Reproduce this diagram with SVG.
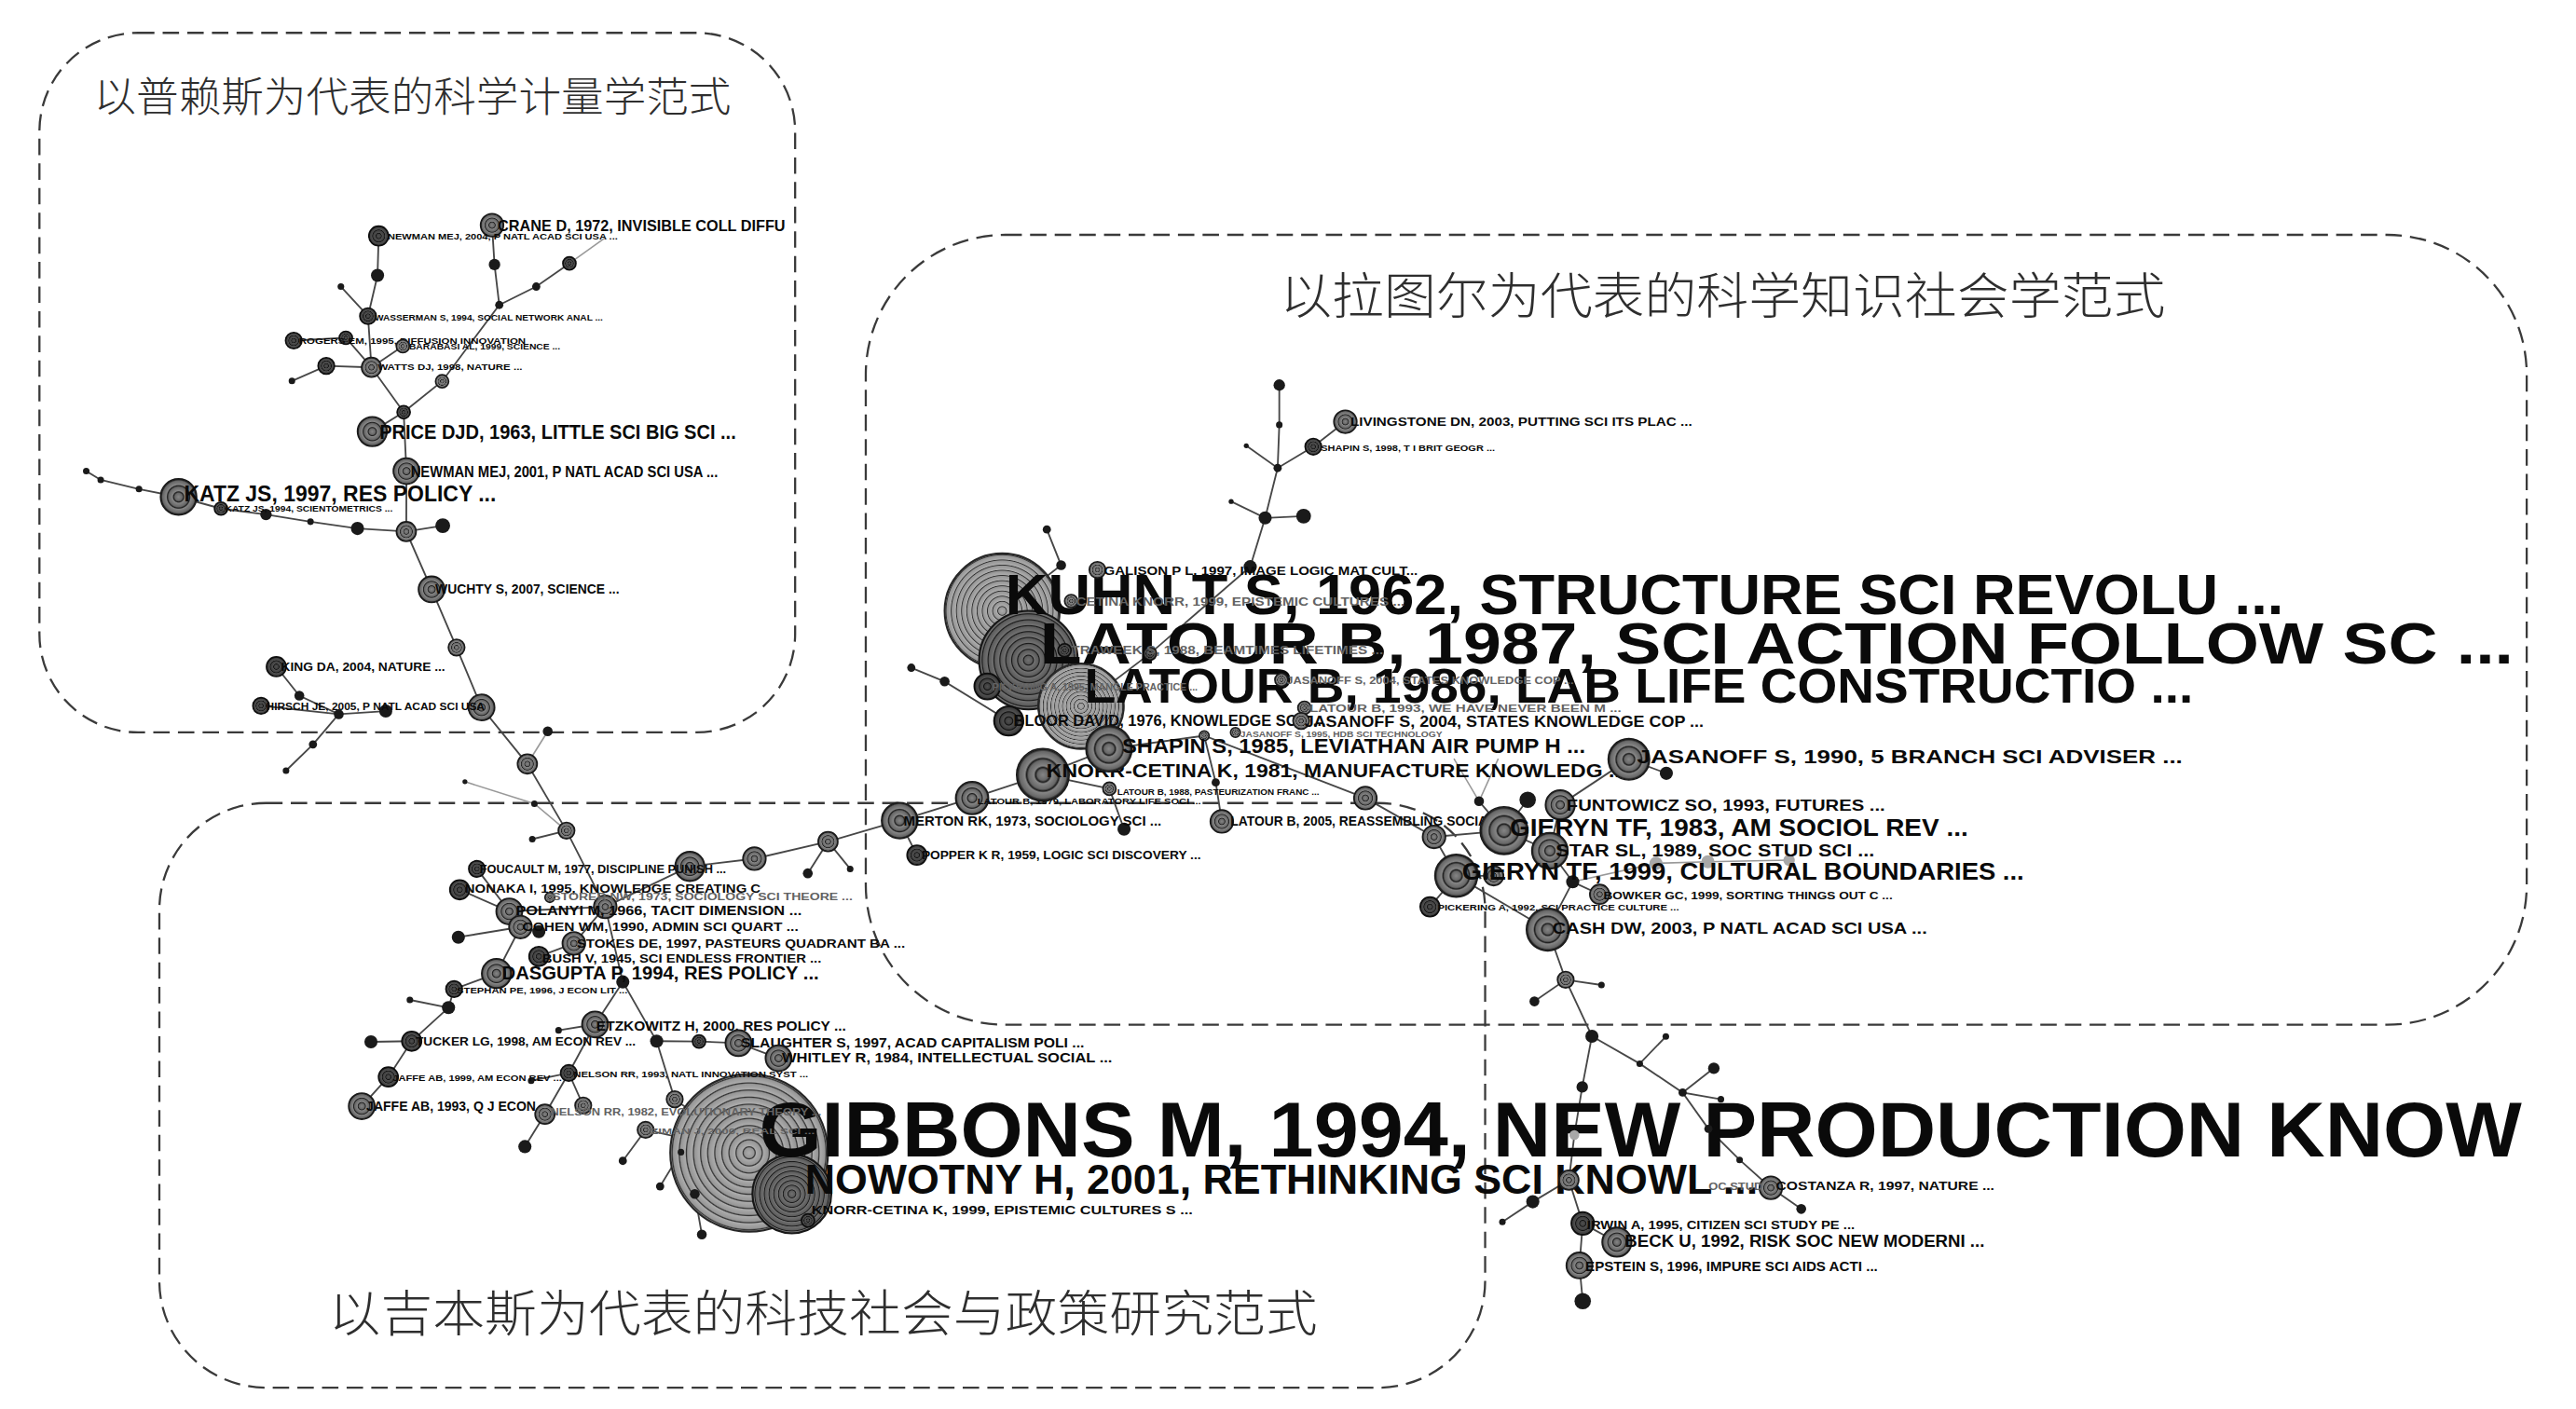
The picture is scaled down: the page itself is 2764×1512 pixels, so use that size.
<svg xmlns="http://www.w3.org/2000/svg" width="2764" height="1512" viewBox="0 0 2764 1512">
<defs>
<style>
.bx{fill:none;stroke:#3a3a3a;stroke-width:1.3;stroke-dasharray:10 5}
.e{fill:none;stroke:#474747;stroke-width:1.05}
.el{fill:none;stroke:#999;stroke-width:0.9}
.d{fill:#1a1a1a}
.dg{fill:#a8a8a8}
.rn{fill:url(#gs);stroke:#1a1a1a;stroke-width:0.9}
.rd{fill:url(#gd);stroke:#0e0e0e;stroke-width:0.9}
.rb{fill:url(#gb);stroke:#262626;stroke-width:1.2}
.rbd{fill:url(#gbd);stroke:#161616;stroke-width:1.2}
.t{font-family:"Liberation Sans",Arial,sans-serif;fill:#0a0a0a;font-weight:bold}
.g{fill:#626262}
.cn{font-family:"Noto Sans CJK SC","Noto Sans CJK JP",sans-serif;fill:#2e2e2e;font-weight:300}
</style>
<radialGradient id="gs" cx="0.5" cy="0.5" r="0.17" spreadMethod="repeat"><stop offset="0" stop-color="#858585"/><stop offset="0.6" stop-color="#676767"/><stop offset="0.82" stop-color="#1e1e1e"/><stop offset="1" stop-color="#858585"/></radialGradient>
<radialGradient id="gd" cx="0.5" cy="0.5" r="0.17" spreadMethod="repeat"><stop offset="0" stop-color="#505050"/><stop offset="0.6" stop-color="#3e3e3e"/><stop offset="0.82" stop-color="#101010"/><stop offset="1" stop-color="#505050"/></radialGradient>
<radialGradient id="gb" cx="0.5" cy="0.5" r="0.045" spreadMethod="repeat"><stop offset="0" stop-color="#ababab"/><stop offset="0.68" stop-color="#969696"/><stop offset="0.85" stop-color="#303030"/><stop offset="1" stop-color="#ababab"/></radialGradient>
<radialGradient id="gbd" cx="0.5" cy="0.5" r="0.06" spreadMethod="repeat"><stop offset="0" stop-color="#707070"/><stop offset="0.65" stop-color="#5c5c5c"/><stop offset="0.84" stop-color="#181818"/><stop offset="1" stop-color="#707070"/></radialGradient>
</defs>
<rect width="2764" height="1512" fill="#fff"/>
<g transform="scale(1.762755 1.762238)">

<g id="regions">
<rect class="bx" x="24" y="20" width="460" height="426" rx="60"/>
<rect class="bx" x="527" y="143" width="1011" height="481" rx="85"/>
<rect class="bx" x="97" y="489" width="807" height="356" rx="65"/>
<text id="title-price" class="cn" x="57" y="68" font-size="25" textLength="388" lengthAdjust="spacingAndGlyphs">以普赖斯为代表的科学计量学范式</text>
<text id="title-latour" class="cn" x="779" y="191" font-size="30" textLength="539" lengthAdjust="spacingAndGlyphs">以拉图尔为代表的科学知识社会学范式</text>
<text id="title-gibbons" class="cn" x="200" y="811" font-size="30" textLength="602" lengthAdjust="spacingAndGlyphs">以吉本斯为代表的科技社会与政策研究范式</text>
</g>

<g id="connectors">
<polyline class="e" points="230.5,143.7 229.8,167.7 224,192.5 226.1,223.7 245.7,251 247.4,286.9 247.3,323.7 262.7,358.9 277.9,394.3 293.1,430.8 321,465.2 344.8,505.8 368.4,552.2 379.1,597.9 399.7,634 410.7,669.4 456,702"/>
<polyline class="e" points="207.5,174.5 224,192.5"/>
<polyline class="e" points="178.8,207.4 210.5,205.7 226.1,223.7"/>
<polyline class="e" points="177.7,232 198.6,222.8 226.1,223.7"/>
<polyline class="e" points="245.2,210.8 226.1,223.7"/>
<polyline class="e" points="299.5,137.1 301,161.1 303.9,185.7 269.1,232.2 245.7,251"/>
<polyline class="e" points="303.9,185.7 326.4,174.5 346.6,160.4"/>
<polyline class="el" points="346.6,160.4 368,145"/>
<polyline class="e" points="226.6,262.8 245.7,251"/>
<polyline class="e" points="52.5,286.9 61.3,292.2 84.6,297.8 108.7,302.6 134.5,309.7 161.9,313.3 189,317.7 217.6,321.8 247.3,323.7 269.5,320.1"/>
<polyline class="e" points="168.2,406 182.2,423.6 206.2,434.9 190.5,453.3 174.1,469.3"/>
<polyline class="e" points="158.9,429.8 206.2,434.9 234.8,433"/>
<polyline class="el" points="333.4,445.3 321,465.2"/>
<polyline class="el" points="283,476 325.3,489.4 344.8,505.8"/>
<polyline class="e" points="344.8,505.8 324,511"/>
<polyline class="e" points="368.4,552.2 419.9,527.6 459.2,522.9 504,512.5 547.6,499.7 591.7,486 634.8,471.8 675,456 658,430 626,402 610,372 645.9,344.2 637.2,322.4"/>
<polyline class="e" points="491.7,531.8 504,512.5 517.5,529.1"/>
<polyline class="e" points="279.8,541.8 310,555 368.4,552.2"/>
<polyline class="e" points="290.3,529.1 310,555"/>
<polyline class="e" points="310,555 316.8,564.5 279,570.7"/>
<polyline class="e" points="316.8,564.5 328,567.3"/>
<polyline class="e" points="316.8,564.5 302.2,592.8 276.4,602.3 273,613.6 250.6,634 236.4,655.8 220.2,673.6"/>
<polyline class="e" points="249.5,608.9 273,613.6"/>
<polyline class="e" points="225.8,634.4 250.6,634"/>
<polyline class="e" points="368.4,552.2 349.3,574.5 328,582.4"/>
<polyline class="e" points="379.1,597.9 362.2,623.8 346.2,653.4 331.7,678.5 319.5,698.2"/>
<polyline class="e" points="362.2,623.8 340,627.4"/>
<polyline class="e" points="323.3,658.1 346.2,653.4 355,673.2"/>
<polyline class="e" points="399.7,634 425.5,634.2 449.5,635.2 473.9,644.4"/>
<polyline class="e" points="379.1,706.9 393,688 456,702"/>
<polyline class="e" points="456,702 414.5,701.6 401.8,722.4"/>
<polyline class="e" points="456,702 422.9,727.1 427.2,751.7"/>
<polyline class="e" points="456,702 482,727 491.8,743.2"/>
<polyline class="e" points="547.6,499.7 558.1,520.7"/>
<polyline class="e" points="614,439 575,415 554.7,406.6"/>
<polyline class="e" points="614,439 626,402"/>
<polyline class="e" points="601,418 626,402"/>
<polyline class="e" points="658,430 700,398 761,345.1 770.1,315.4 777.7,285 778.7,258.7 778.7,234.5"/>
<polyline class="e" points="749.4,305.4 770.1,315.4 793.5,314.3"/>
<polyline class="e" points="758.6,271.4 777.7,285 799.4,272 818.9,256.8"/>
<polyline class="e" points="634.8,471.8 675.3,480.3 684.2,504.9"/>
<polyline class="e" points="675,456 733,448 831.1,486 872.9,509.6 886.4,533.3 942.1,566"/>
<polyline class="e" points="733,448 740,476.5 743.7,500.2"/>
<polyline class="e" points="872.9,509.6 915.5,505.8 943.4,518.1 957.3,537 942.1,566"/>
<polyline class="el" points="885,462 900.3,487.9 912,462"/>
<polyline class="e" points="900.3,487.9 915.5,505.8 929.9,487"/>
<polyline class="e" points="943.4,518.1 949.7,490.1 991.5,462.4 1014.3,470.9"/>
<polyline class="e" points="870.4,552.2 886.4,533.3 909.2,533.3"/>
<polyline class="e" points="973.7,544.6 957.3,537"/>
<polyline class="el" points="957.3,537 1008,525.7 1039.6,524.8 1089,523.8"/>
<polyline class="e" points="942.1,566 953,596.6 969,631 963.1,661.9 958.3,691.2 955,718.6 963.4,745 961.4,770.6 963.4,792.3"/>
<polyline class="e" points="974.8,599.8 953,596.6 934,609.8"/>
<polyline class="e" points="969,631 998.1,647.7 1024.2,665.3 1039.9,687.4 1058.9,706.3 1077.9,723.3 1096.4,736.2"/>
<polyline class="e" points="998.1,647.7 1014,631.2"/>
<polyline class="e" points="1043.2,650.5 1024.2,665.3 1047.5,669.4"/>
<polyline class="e" points="955,718.6 933,731.8 914.5,744.1"/>
<polyline class="e" points="963.4,745 984.2,756.4"/>
</g>

<g id="big-nodes">
<g id="n-kuhn"><circle class="rb" cx="610" cy="372" r="35"/></g>
<g id="n-latour87"><circle class="rbd" cx="626" cy="402" r="30"/></g>
<g id="n-latour86"><circle class="rb" cx="658" cy="430" r="26"/></g>
<g id="n-gibbons"><circle class="rb" cx="456" cy="702" r="48"/></g>
<g id="n-nowotny"><circle class="rbd" cx="482" cy="727" r="24"/></g>
</g>

<g id="big-labels">
<g id="l-kuhn"><text class="t" x="612" y="374" font-size="35" textLength="778" lengthAdjust="spacingAndGlyphs">KUHN T S, 1962, STRUCTURE SCI REVOLU ...</text></g>
<g id="l-latour87"><text class="t" x="633" y="404" font-size="36" textLength="897" lengthAdjust="spacingAndGlyphs">LATOUR B, 1987, SCI ACTION FOLLOW SC ...</text></g>
<g id="l-latour86"><text class="t" x="660" y="428" font-size="29" textLength="675" lengthAdjust="spacingAndGlyphs">LATOUR B, 1986, LAB LIFE CONSTRUCTIO ...</text></g>
<g id="l-gibbons"><text class="t" x="462" y="704" font-size="47" textLength="1073" lengthAdjust="spacingAndGlyphs">GIBBONS M, 1994, NEW PRODUCTION KNOW</text></g>
<g id="l-nowotny"><text class="t" x="490" y="727" font-size="25" textLength="580" lengthAdjust="spacingAndGlyphs">NOWOTNY H, 2001, RETHINKING SCI KNOWL ...</text></g>
</g>

<g id="minor-nodes">
<g id="m1"><circle class="d" cx="229.8" cy="167.7" r="4"/></g>
<g id="m2"><circle class="d" cx="301" cy="161.1" r="3.5"/></g>
<g id="m3"><circle class="rd" cx="346.6" cy="160.4" r="4"/></g>
<g id="m4"><circle class="d" cx="326.4" cy="174.5" r="2.5"/></g>
<g id="m5"><circle class="d" cx="303.9" cy="185.7" r="2.5"/></g>
<g id="m6"><circle class="d" cx="207.5" cy="174.5" r="2"/></g>
<g id="m7"><circle class="rd" cx="210.5" cy="205.7" r="4"/></g>
<g id="m8"><circle class="d" cx="177.7" cy="232" r="2"/></g>
<g id="m9"><circle class="rd" cx="198.6" cy="222.8" r="5"/></g>
<g id="m10"><circle class="rn" cx="269.1" cy="232.2" r="4"/></g>
<g id="m11"><circle class="rd" cx="245.7" cy="251" r="4"/></g>
<g id="m12"><circle class="d" cx="52.5" cy="286.9" r="2"/></g>
<g id="m13"><circle class="d" cx="61.3" cy="292.2" r="2"/></g>
<g id="m14"><circle class="d" cx="84.6" cy="297.8" r="2"/></g>
<g id="m15"><circle class="d" cx="161.9" cy="313.3" r="3.5"/></g>
<g id="m16"><circle class="d" cx="189" cy="317.7" r="2"/></g>
<g id="m17"><circle class="d" cx="217.6" cy="321.8" r="4"/></g>
<g id="m18"><circle class="rn" cx="247.3" cy="323.7" r="6"/></g>
<g id="m19"><circle class="d" cx="269.5" cy="320.1" r="4.5"/></g>
<g id="m20"><circle class="rn" cx="277.9" cy="394.3" r="5"/></g>
<g id="m21"><circle class="d" cx="182.2" cy="423.6" r="3"/></g>
<g id="m22"><circle class="d" cx="206.2" cy="434.9" r="3"/></g>
<g id="m23"><circle class="d" cx="234.8" cy="433" r="4"/></g>
<g id="m24"><circle class="rn" cx="293.1" cy="430.8" r="8"/></g>
<g id="m25"><circle class="d" cx="333.4" cy="445.3" r="3"/></g>
<g id="m26"><circle class="d" cx="190.5" cy="453.3" r="2.5"/></g>
<g id="m27"><circle class="d" cx="174.1" cy="469.3" r="2"/></g>
<g id="m28"><circle class="rn" cx="321" cy="465.2" r="6"/></g>
<g id="m29"><circle class="d" cx="283" cy="476" r="1.5"/></g>
<g id="m30"><circle class="d" cx="325.3" cy="489.4" r="2"/></g>
<g id="m31"><circle class="rn" cx="344.8" cy="505.8" r="5"/></g>
<g id="m32"><circle class="d" cx="324" cy="511" r="2"/></g>
<g id="m33"><circle class="rn" cx="368.4" cy="552.2" r="7"/></g>
<g id="m34"><circle class="rn" cx="419.9" cy="527.6" r="9"/></g>
<g id="m35"><circle class="rn" cx="459.2" cy="522.9" r="7"/></g>
<g id="m36"><circle class="rn" cx="504" cy="512.5" r="6"/></g>
<g id="m37"><circle class="d" cx="491.7" cy="531.8" r="3"/></g>
<g id="m38"><circle class="d" cx="517.5" cy="529.1" r="2"/></g>
<g id="m39"><circle class="d" cx="279" cy="570.7" r="4"/></g>
<g id="m40"><circle class="d" cx="328" cy="567.3" r="4"/></g>
<g id="m41"><circle class="d" cx="379.1" cy="597.9" r="4"/></g>
<g id="m42"><circle class="d" cx="249.5" cy="608.9" r="2"/></g>
<g id="m43"><circle class="d" cx="273" cy="613.6" r="4"/></g>
<g id="m44"><circle class="d" cx="340" cy="627.4" r="2"/></g>
<g id="m45"><circle class="d" cx="225.8" cy="634.4" r="4"/></g>
<g id="m46"><circle class="d" cx="399.7" cy="634" r="4"/></g>
<g id="m47"><circle class="rd" cx="425.5" cy="634.2" r="4"/></g>
<g id="m48"><circle class="d" cx="323.3" cy="658.1" r="2"/></g>
<g id="m49"><circle class="rn" cx="355" cy="673.2" r="5"/></g>
<g id="m50"><circle class="rn" cx="410.7" cy="669.4" r="5"/></g>
<g id="m51"><circle class="d" cx="319.5" cy="698.2" r="4"/></g>
<g id="m52"><circle class="d" cx="379.1" cy="706.9" r="2.5"/></g>
<g id="m53"><circle class="d" cx="414.5" cy="701.6" r="2"/></g>
<g id="m54"><circle class="d" cx="401.8" cy="722.4" r="2.5"/></g>
<g id="m55"><circle class="d" cx="422.9" cy="727.1" r="3"/></g>
<g id="m56"><circle class="d" cx="427.2" cy="751.7" r="3"/></g>
<g id="m57"><circle class="d" cx="637.2" cy="322.4" r="2.5"/></g>
<g id="m58"><circle class="d" cx="645.9" cy="344.2" r="3"/></g>
<g id="m59"><circle class="d" cx="554.7" cy="406.6" r="2.5"/></g>
<g id="m60"><circle class="d" cx="575" cy="415" r="3"/></g>
<g id="m61"><circle class="d" cx="761" cy="345.1" r="4"/></g>
<g id="m62"><circle class="d" cx="749.4" cy="305.4" r="1.5"/></g>
<g id="m63"><circle class="d" cx="770.1" cy="315.4" r="4"/></g>
<g id="m64"><circle class="d" cx="793.5" cy="314.3" r="4.5"/></g>
<g id="m65"><circle class="d" cx="777.7" cy="285" r="2.5"/></g>
<g id="m66"><circle class="d" cx="758.6" cy="271.4" r="1.5"/></g>
<g id="m67"><circle class="d" cx="778.7" cy="258.7" r="2"/></g>
<g id="m68"><circle class="d" cx="778.7" cy="234.5" r="3.5"/></g>
<g id="m69"><circle class="d" cx="684.2" cy="504.9" r="4"/></g>
<g id="m70"><circle class="rn" cx="733" cy="448" r="3"/></g>
<g id="m71"><circle class="d" cx="740" cy="476.5" r="2.5"/></g>
<g id="m72"><circle class="rn" cx="831.1" cy="486" r="7"/></g>
<g id="m73"><circle class="rn" cx="872.9" cy="509.6" r="7"/></g>
<g id="m74"><circle class="d" cx="900.3" cy="487.9" r="3"/></g>
<g id="m75"><circle class="d" cx="929.9" cy="487" r="5"/></g>
<g id="m76"><circle class="rn" cx="909.2" cy="533.3" r="6"/></g>
<g id="m77"><circle class="d" cx="957.3" cy="537" r="4"/></g>
<g id="m78"><circle class="d" cx="1014.3" cy="470.9" r="4"/></g>
<g id="m79"><circle class="dg" cx="1008" cy="525.7" r="4"/></g>
<g id="m80"><circle class="dg" cx="1039.6" cy="524.8" r="4"/></g>
<g id="m81"><circle class="dg" cx="1089" cy="523.8" r="3.5"/></g>
<g id="m82"><circle class="rn" cx="953" cy="596.6" r="5"/></g>
<g id="m83"><circle class="d" cx="974.8" cy="599.8" r="2"/></g>
<g id="m84"><circle class="d" cx="934" cy="609.8" r="3"/></g>
<g id="m85"><circle class="d" cx="969" cy="631" r="4"/></g>
<g id="m86"><circle class="d" cx="1014" cy="631.2" r="2"/></g>
<g id="m87"><circle class="d" cx="998.1" cy="647.7" r="2"/></g>
<g id="m88"><circle class="d" cx="1043.2" cy="650.5" r="3.5"/></g>
<g id="m89"><circle class="d" cx="1024.2" cy="665.3" r="2.5"/></g>
<g id="m90"><circle class="d" cx="1047.5" cy="669.4" r="2"/></g>
<g id="m91"><circle class="d" cx="963.1" cy="661.9" r="3.5"/></g>
<g id="m92"><circle class="d" cx="1039.9" cy="687.4" r="2.5"/></g>
<g id="m93"><circle class="d" cx="1058.9" cy="706.3" r="2"/></g>
<g id="m94"><circle class="dg" cx="958.3" cy="691.2" r="3"/></g>
<g id="m95"><circle class="d" cx="1096.4" cy="736.2" r="3"/></g>
<g id="m96"><circle class="rn" cx="955" cy="718.6" r="6"/></g>
<g id="m97"><circle class="d" cx="933" cy="731.8" r="4"/></g>
<g id="m98"><circle class="d" cx="914.5" cy="744.1" r="2"/></g>
<g id="m99"><circle class="d" cx="963.4" cy="792.3" r="5"/></g>
<g id="m100"><circle class="rd" cx="700" cy="398" r="4"/></g>
</g>

<g id="labeled-nodes">
<g id="n-crane"><circle class="rn" cx="299.5" cy="137.1" r="7"/><text class="t" x="303" y="140.5" font-size="9.5" textLength="175" lengthAdjust="spacingAndGlyphs">CRANE D, 1972, INVISIBLE COLL DIFFU</text></g>
<g id="n-newman04"><circle class="rd" cx="230.5" cy="143.7" r="6"/><text class="t" x="236" y="146" font-size="5.5" textLength="140" lengthAdjust="spacingAndGlyphs">NEWMAN MEJ, 2004, P NATL ACAD SCI USA ...</text></g>
<g id="n-wasserman"><circle class="rd" cx="224" cy="192.5" r="5"/><text class="t" x="228" y="195" font-size="5.5" textLength="139" lengthAdjust="spacingAndGlyphs">WASSERMAN S, 1994, SOCIAL NETWORK ANAL ...</text></g>
<g id="n-rogers"><circle class="rd" cx="178.8" cy="207.4" r="5"/><text class="t" x="182" y="209.5" font-size="5.5" textLength="138" lengthAdjust="spacingAndGlyphs">ROGERS EM, 1995, DIFFUSION INNOVATION</text></g>
<g id="n-barabasi"><circle class="rn" cx="245.2" cy="210.8" r="4"/><text class="t" x="249" y="213" font-size="5" textLength="92" lengthAdjust="spacingAndGlyphs">BARABASI AL, 1999, SCIENCE ...</text></g>
<g id="n-watts"><circle class="rn" cx="226.1" cy="223.7" r="6"/><text class="t" x="230" y="225.5" font-size="5" textLength="88" lengthAdjust="spacingAndGlyphs">WATTS DJ, 1998, NATURE ...</text></g>
<g id="n-price"><circle class="rn" cx="226.6" cy="262.8" r="9"/><text class="t" x="231" y="267.5" font-size="12.5" textLength="217" lengthAdjust="spacingAndGlyphs">PRICE DJD, 1963, LITTLE SCI BIG SCI ...</text></g>
<g id="n-newman01"><circle class="rn" cx="247.4" cy="286.9" r="8"/><text class="t" x="250" y="290.5" font-size="9" textLength="187" lengthAdjust="spacingAndGlyphs">NEWMAN MEJ, 2001, P NATL ACAD SCI USA ...</text></g>
<g id="n-katz97"><circle class="rn" cx="108.7" cy="302.6" r="11"/><text class="t" x="112" y="305.5" font-size="13.5" textLength="190" lengthAdjust="spacingAndGlyphs">KATZ JS, 1997, RES POLICY ...</text></g>
<g id="n-katz94"><circle class="rd" cx="134.5" cy="309.7" r="4"/><text class="t" x="137" y="311.5" font-size="5" textLength="102" lengthAdjust="spacingAndGlyphs">KATZ JS, 1994, SCIENTOMETRICS ...</text></g>
<g id="n-wuchty"><circle class="rn" cx="262.7" cy="358.9" r="8"/><text class="t" x="265" y="361.5" font-size="8" textLength="112" lengthAdjust="spacingAndGlyphs">WUCHTY S, 2007, SCIENCE ...</text></g>
<g id="n-king"><circle class="rd" cx="168.2" cy="406" r="6"/><text class="t" x="171" y="408.5" font-size="7.5" textLength="100" lengthAdjust="spacingAndGlyphs">KING DA, 2004, NATURE ...</text></g>
<g id="n-hirsch"><circle class="rd" cx="158.9" cy="429.8" r="5"/><text class="t" x="162" y="432.5" font-size="6.5" textLength="133" lengthAdjust="spacingAndGlyphs">HIRSCH JE, 2005, P NATL ACAD SCI USA</text></g>

<g id="n-foucault"><circle class="rd" cx="290.3" cy="529.1" r="5"/><text class="t" x="292" y="531.5" font-size="7.5" textLength="150" lengthAdjust="spacingAndGlyphs">FOUCAULT M, 1977, DISCIPLINE PUNISH ...</text></g>
<g id="n-nonaka"><circle class="rd" cx="279.8" cy="541.8" r="6"/><text class="t" x="283" y="543.5" font-size="7.5" textLength="180" lengthAdjust="spacingAndGlyphs">NONAKA I, 1995, KNOWLEDGE CREATING C</text></g>
<g id="n-storer"><circle class="rn" cx="334.7" cy="546.5" r="3"/><text class="t g" x="336" y="548" font-size="6" textLength="183" lengthAdjust="spacingAndGlyphs">STORER NW, 1973, SOCIOLOGY SCI THEORE ...</text></g>
<g id="n-polanyi"><circle class="rn" cx="310" cy="555" r="8"/><text class="t" x="314" y="557.5" font-size="8" textLength="174" lengthAdjust="spacingAndGlyphs">POLANYI M, 1966, TACIT DIMENSION ...</text></g>
<g id="n-cohen"><circle class="rn" cx="316.8" cy="564.5" r="7"/><text class="t" x="318" y="567" font-size="7.5" textLength="168" lengthAdjust="spacingAndGlyphs">COHEN WM, 1990, ADMIN SCI QUART ...</text></g>
<g id="n-stokes"><circle class="rn" cx="349.3" cy="574.5" r="7"/><text class="t" x="351" y="577.3" font-size="7.5" textLength="200" lengthAdjust="spacingAndGlyphs">STOKES DE, 1997, PASTEURS QUADRANT BA ...</text></g>
<g id="n-bush"><circle class="rd" cx="328" cy="582.4" r="6"/><text class="t" x="330" y="586" font-size="7" textLength="170" lengthAdjust="spacingAndGlyphs">BUSH V, 1945, SCI ENDLESS FRONTIER ...</text></g>
<g id="n-dasgupta"><circle class="rn" cx="302.2" cy="592.8" r="9"/><text class="t" x="305.5" y="596.5" font-size="11" textLength="193" lengthAdjust="spacingAndGlyphs">DASGUPTA P, 1994, RES POLICY ...</text></g>
<g id="n-stephan"><circle class="rd" cx="276.4" cy="602.3" r="5"/><text class="t" x="278" y="605" font-size="5.5" textLength="104" lengthAdjust="spacingAndGlyphs">STEPHAN PE, 1996, J ECON LIT ...</text></g>
<g id="n-etzkowitz"><circle class="rn" cx="362.2" cy="623.8" r="8"/><text class="t" x="363" y="627.5" font-size="8" textLength="152" lengthAdjust="spacingAndGlyphs">ETZKOWITZ H, 2000, RES POLICY ...</text></g>
<g id="n-tucker"><circle class="rd" cx="250.6" cy="634" r="6"/><text class="t" x="253" y="636.5" font-size="7" textLength="134" lengthAdjust="spacingAndGlyphs">TUCKER LG, 1998, AM ECON REV ...</text></g>
<g id="n-slaughter"><circle class="rn" cx="449.5" cy="635.2" r="8"/><text class="t" x="451" y="638" font-size="8.5" textLength="209" lengthAdjust="spacingAndGlyphs">SLAUGHTER S, 1997, ACAD CAPITALISM POLI ...</text></g>
<g id="n-whitley"><circle class="rn" cx="473.9" cy="644.4" r="8"/><text class="t" x="476" y="647" font-size="8.5" textLength="201" lengthAdjust="spacingAndGlyphs">WHITLEY R, 1984, INTELLECTUAL SOCIAL ...</text></g>
<g id="n-jaffe99"><circle class="rd" cx="236.4" cy="655.8" r="6"/><text class="t" x="239" y="658" font-size="5.5" textLength="103" lengthAdjust="spacingAndGlyphs">JAFFE AB, 1999, AM ECON REV ...</text></g>
<g id="n-nelson93"><circle class="rd" cx="346.2" cy="653.4" r="5"/><text class="t" x="349" y="656" font-size="5.5" textLength="143" lengthAdjust="spacingAndGlyphs">NELSON RR, 1993, NATL INNOVATION SYST ...</text></g>
<g id="n-jaffe93"><circle class="rn" cx="220.2" cy="673.6" r="8"/><text class="t" x="223" y="676.5" font-size="8.5" textLength="112" lengthAdjust="spacingAndGlyphs">JAFFE AB, 1993, Q J ECON ...</text></g>
<g id="n-nelson82"><circle class="rn" cx="331.7" cy="678.5" r="6"/><text class="t g" x="335" y="679.5" font-size="6" textLength="165" lengthAdjust="spacingAndGlyphs">NELSON RR, 1982, EVOLUTIONARY THEORY ...</text></g>
<g id="n-ziman"><circle class="rn" cx="393" cy="688" r="5"/><text class="t g" x="396" y="690.5" font-size="5.5" textLength="100" lengthAdjust="spacingAndGlyphs">ZIMAN J, 2000, REAL SCI ...</text></g>
<g id="n-knorr99"><circle class="rd" cx="491.8" cy="743.2" r="4"/><text class="t" x="494" y="739.5" font-size="7.5" textLength="232" lengthAdjust="spacingAndGlyphs">KNORR-CETINA K, 1999, EPISTEMIC CULTURES S ...</text></g>

<g id="n-merton"><circle class="rn" cx="547.6" cy="499.7" r="11"/><text class="t" x="550" y="502.5" font-size="8" textLength="157" lengthAdjust="spacingAndGlyphs">MERTON RK, 1973, SOCIOLOGY SCI ...</text></g>
<g id="n-popper"><circle class="rd" cx="558.1" cy="520.7" r="6"/><text class="t" x="561" y="523" font-size="7.5" textLength="170" lengthAdjust="spacingAndGlyphs">POPPER K R, 1959, LOGIC SCI DISCOVERY ...</text></g>
<g id="n-latour79"><circle class="rn" cx="591.7" cy="486" r="10"/><text class="t" x="595" y="489.8" font-size="5.5" textLength="136" lengthAdjust="spacingAndGlyphs">LATOUR B, 1979, LABORATORY LIFE SOCI ...</text></g>
<g id="n-knorr81"><circle class="rn" cx="634.8" cy="471.8" r="16"/><text class="t" x="637" y="473" font-size="12" textLength="353" lengthAdjust="spacingAndGlyphs">KNORR-CETINA K, 1981, MANUFACTURE KNOWLEDG ...</text></g>
<g id="n-pasteur"><circle class="rn" cx="675.3" cy="480.3" r="4"/><text class="t" x="680" y="484" font-size="5.5" textLength="123" lengthAdjust="spacingAndGlyphs">LATOUR B, 1988, PASTEURIZATION FRANC ...</text></g>
<g id="n-latour05"><circle class="rn" cx="743.7" cy="500.2" r="7"/><text class="t" x="749" y="502.5" font-size="8" textLength="163" lengthAdjust="spacingAndGlyphs">LATOUR B, 2005, REASSEMBLING SOCIA...</text></g>
<g id="n-galison"><circle class="rn" cx="668" cy="347" r="5"/><text class="t" x="672" y="350" font-size="7" textLength="191" lengthAdjust="spacingAndGlyphs">GALISON P L, 1997, IMAGE LOGIC MAT CULT...</text></g>
<g id="n-cetina"><circle class="rn" cx="652" cy="366" r="4"/><text class="t g" x="655" y="369" font-size="7" textLength="200" lengthAdjust="spacingAndGlyphs">CETINA KNORR, 1999, EPISTEMIC CULTURES ...</text></g>
<g id="n-traweek"><circle class="rd" cx="648" cy="396" r="4"/><text class="t g" x="652" y="398.5" font-size="7" textLength="190" lengthAdjust="spacingAndGlyphs">TRAWEEK S, 1988, BEAMTIMES LIFETIMES ...</text></g>
<g id="n-pickering95"><circle class="rd" cx="601" cy="418" r="8"/><text class="t g" x="604" y="420.5" font-size="6.5" textLength="125" lengthAdjust="spacingAndGlyphs">PICKERING A, 1995, MANGLE PRACTICE ...</text></g>
<g id="n-jasanoff04b"><circle class="rn" cx="780" cy="414" r="4"/><text class="t g" x="783" y="416.5" font-size="6.5" textLength="175" lengthAdjust="spacingAndGlyphs">JASANOFF S, 2004, STATES KNOWLEDGE COP ...</text></g>
<g id="n-latour93"><circle class="rn" cx="794" cy="431" r="4"/><text class="t g" x="797" y="433.5" font-size="6.5" textLength="190" lengthAdjust="spacingAndGlyphs">LATOUR B, 1993, WE HAVE NEVER BEEN M ...</text></g>
<g id="n-bloor"><circle class="rd" cx="614" cy="439" r="9"/><text class="t" x="617" y="442" font-size="9.5" textLength="190" lengthAdjust="spacingAndGlyphs">BLOOR DAVID, 1976, KNOWLEDGE SOC ...</text></g>
<g id="n-jasanoff04"><circle class="rn" cx="792" cy="439" r="5"/><text class="t" x="794" y="442.5" font-size="9.5" textLength="243" lengthAdjust="spacingAndGlyphs">JASANOFF S, 2004, STATES KNOWLEDGE COP ...</text></g>
<g id="n-jasanoff95"><circle class="rn" cx="752" cy="446" r="3"/><text class="t g" x="755" y="449" font-size="5" textLength="123" lengthAdjust="spacingAndGlyphs">JASANOFF S, 1995, HDB SCI TECHNOLOGY</text></g>
<g id="n-shapin85"><circle class="rn" cx="675" cy="456" r="14"/><text class="t" x="683" y="458.5" font-size="13" textLength="282" lengthAdjust="spacingAndGlyphs">SHAPIN S, 1985, LEVIATHAN AIR PUMP H ...</text></g>
<g id="n-livingstone"><circle class="rn" cx="818.9" cy="256.8" r="7"/><text class="t" x="822" y="259.5" font-size="7.5" textLength="208" lengthAdjust="spacingAndGlyphs">LIVINGSTONE DN, 2003, PUTTING SCI ITS PLAC ...</text></g>
<g id="n-shapin98"><circle class="rd" cx="799.4" cy="272" r="5"/><text class="t" x="804" y="274.5" font-size="5.5" textLength="106" lengthAdjust="spacingAndGlyphs">SHAPIN S, 1998, T I BRIT GEOGR ...</text></g>
<g id="n-jasanoff90"><circle class="rn" cx="991.5" cy="462.4" r="12.6"/><text class="t" x="996.5" y="464.5" font-size="12" textLength="332" lengthAdjust="spacingAndGlyphs">JASANOFF S, 1990, 5 BRANCH SCI ADVISER ...</text></g>
<g id="n-funtowicz"><circle class="rn" cx="949.7" cy="490.1" r="9"/><text class="t" x="953.5" y="493.5" font-size="9.5" textLength="194" lengthAdjust="spacingAndGlyphs">FUNTOWICZ SO, 1993, FUTURES ...</text></g>
<g id="n-gieryn83"><circle class="rn" cx="915.5" cy="505.8" r="14.5"/><text class="t" x="919" y="509" font-size="15" textLength="279" lengthAdjust="spacingAndGlyphs">GIERYN TF, 1983, AM SOCIOL REV ...</text></g>
<g id="n-star"><circle class="rn" cx="943.4" cy="518.1" r="11"/><text class="t" x="947" y="521.5" font-size="10.5" textLength="194" lengthAdjust="spacingAndGlyphs">STAR SL, 1989, SOC STUD SCI ...</text></g>
<g id="n-gieryn99"><circle class="rn" cx="886.4" cy="533.3" r="13"/><text class="t" x="890" y="535.5" font-size="15" textLength="342" lengthAdjust="spacingAndGlyphs">GIERYN TF, 1999, CULTURAL BOUNDARIES ...</text></g>
<g id="n-bowker"><circle class="rn" cx="973.7" cy="544.6" r="6"/><text class="t" x="976" y="547.5" font-size="6.5" textLength="176" lengthAdjust="spacingAndGlyphs">BOWKER GC, 1999, SORTING THINGS OUT C ...</text></g>
<g id="n-pickering92"><circle class="rd" cx="870.4" cy="552.2" r="6"/><text class="t" x="875" y="554.5" font-size="5.5" textLength="147" lengthAdjust="spacingAndGlyphs">PICKERING A, 1992, SCI PRACTICE CULTURE ...</text></g>
<g id="n-cash"><circle class="rn" cx="942.1" cy="566" r="13"/><text class="t" x="945" y="568.5" font-size="9.5" textLength="228" lengthAdjust="spacingAndGlyphs">CASH DW, 2003, P NATL ACAD SCI USA ...</text></g>
<g id="n-costanza"><circle class="rn" cx="1077.9" cy="723.3" r="7"/><text class="t g" x="1040" y="724.5" font-size="6" textLength="33" lengthAdjust="spacingAndGlyphs">OC STUD</text><text class="t" x="1081" y="724.5" font-size="7.5" textLength="133" lengthAdjust="spacingAndGlyphs">COSTANZA R, 1997, NATURE ...</text></g>
<g id="n-irwin"><circle class="rd" cx="963.4" cy="745" r="7"/><text class="t" x="966" y="748.5" font-size="7" textLength="163" lengthAdjust="spacingAndGlyphs">IRWIN A, 1995, CITIZEN SCI STUDY PE ...</text></g>
<g id="n-beck"><circle class="rn" cx="984.2" cy="756.4" r="9"/><text class="t" x="989" y="759" font-size="10" textLength="219" lengthAdjust="spacingAndGlyphs">BECK U, 1992, RISK SOC NEW MODERNI ...</text></g>
<g id="n-epstein"><circle class="rn" cx="961.4" cy="770.6" r="8"/><text class="t" x="965" y="774" font-size="8" textLength="178" lengthAdjust="spacingAndGlyphs">EPSTEIN S, 1996, IMPURE SCI AIDS ACTI ...</text></g>
</g>

</g>
</svg>
